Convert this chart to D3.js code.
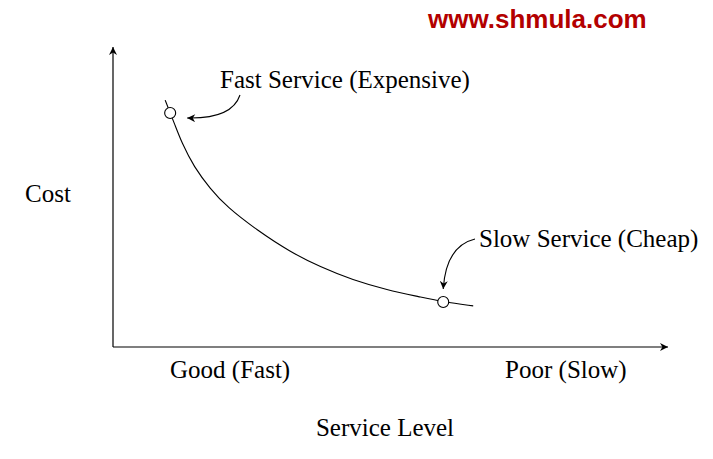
<!DOCTYPE html>
<html><head><meta charset="utf-8">
<script src="https://cdn.jsdelivr.net/npm/d3@7"></script>
<style>body{margin:0;background:#fff}svg{display:block}</style>
</head><body>
<script>
// Data (arbitrary units: service level 0..100 -> poor, cost 0..100)
const curveX = [9.4, 10.3, 11.0, 12.4, 14.6, 17.5, 20.5, 25.9, 31.9, 37.3, 43.2, 49.4, 55.3, 59.5, 64.9];
const curveY = [82.3, 78.0, 74.8, 68.0, 60.0, 52.8, 46.7, 39.0, 31.7, 26.7, 22.3, 19.0, 16.7, 15.0, 13.7];
const markers = [{x: 10.3, y: 78.0, label: "Fast Service (Expensive)"}, {x: 59.5, y: 15.0, label: "Slow Service (Cheap)"}];
const xCategories = ["Good (Fast)", "Poor (Slow)"];
const xCategoryPos = [21.1, 81.6];
const xTitle = "Service Level", yTitle = "Cost", watermark = "www.shmula.com";

const W = 713, H = 459;
const svg = d3.select("body").append("svg").attr("width", W).attr("height", H);
const x = d3.scaleLinear().domain([0, 100]).range([113, 668]);
const y = d3.scaleLinear().domain([0, 100]).range([347, 47]);
const serif = "'Liberation Serif','Times New Roman',serif";
const FS = 25;

const defs = svg.append("defs");
defs.append("marker").attr("id", "ah").attr("viewBox", "0 0 10 10").attr("refX", 10).attr("refY", 5)
  .attr("markerWidth", 10).attr("markerHeight", 8).attr("markerUnits", "userSpaceOnUse").attr("orient", "auto")
  .append("path").attr("d", "M0,0 L10,5 L0,10 L3,5 Z").attr("fill", "#000");

// axes
svg.append("line").attr("x1", x(0)).attr("y1", y(0)).attr("x2", x(0)).attr("y2", y(100))
  .attr("stroke", "#000").attr("stroke-width", 1.2).attr("marker-end", "url(#ah)");
svg.append("line").attr("x1", x(0)).attr("y1", y(0)).attr("x2", x(100)).attr("y2", y(0))
  .attr("stroke", "#000").attr("stroke-width", 1.2).attr("marker-end", "url(#ah)");

// curve
const pts = curveX.map((v, i) => [v, curveY[i]]);
svg.append("path").datum(pts)
  .attr("d", d3.line().x(d => x(d[0])).y(d => y(d[1])).curve(d3.curveBasis))
  .attr("fill", "none").attr("stroke", "#000").attr("stroke-width", 1.1);

// markers
svg.selectAll("circle.m").data(markers).join("circle").attr("class", "m")
  .attr("cx", d => x(d.x)).attr("cy", d => y(d.y)).attr("r", 5.5)
  .attr("fill", "#fff").attr("stroke", "#000").attr("stroke-width", 1.1);

// annotations
const m0 = markers[0], m1 = markers[1];
svg.append("path")
  .attr("d", `M240,95 Q232,119 ${x(m0.x) + 17},${y(m0.y) + 5}`)
  .attr("fill", "none").attr("stroke", "#000").attr("stroke-width", 1.1).attr("marker-end", "url(#ah)");
svg.append("path")
  .attr("d", `M475,239 Q446,246 ${x(m1.x)},${y(m1.y) - 13}`)
  .attr("fill", "none").attr("stroke", "#000").attr("stroke-width", 1.1).attr("marker-end", "url(#ah)");

svg.append("text").attr("x", 220).attr("y", 88).text(m0.label)
  .attr("font-family", serif).attr("font-size", FS);
svg.append("text").attr("x", 479).attr("y", 247).text(m1.label)
  .attr("font-family", serif).attr("font-size", FS);

// category labels
svg.selectAll("text.cat").data(xCategories).join("text").attr("class", "cat")
  .attr("x", (d, i) => x(xCategoryPos[i])).attr("y", 378).attr("text-anchor", "middle")
  .attr("font-family", serif).attr("font-size", FS).text(d => d);

svg.append("text").attr("x", 385).attr("y", 436).attr("text-anchor", "middle")
  .attr("font-family", serif).attr("font-size", FS).text(xTitle);
svg.append("text").attr("x", 25).attr("y", 202)
  .attr("font-family", serif).attr("font-size", FS).text(yTitle);

svg.append("text").attr("x", 428).attr("y", 28).text(watermark)
  .attr("font-family", "'Liberation Sans',Arial,sans-serif").attr("font-weight", "bold")
  .attr("font-size", 26).attr("fill", "#b30000");
</script>
</body></html>
